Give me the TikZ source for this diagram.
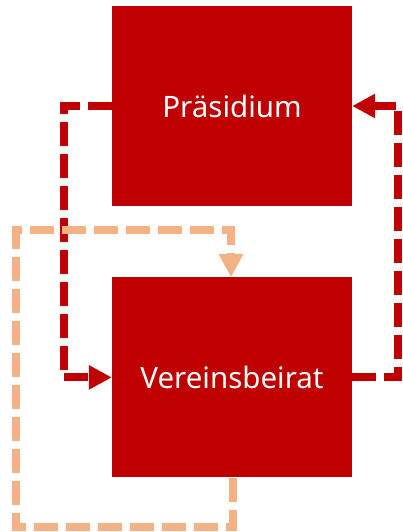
\documentclass[tikz,border=0pt]{standalone}
\usepackage{fontspec}
\setmainfont{Noto Sans}
\usepackage{tikz}
\usetikzlibrary{positioning,arrows.meta}

\definecolor{dunkelrot}{HTML}{C00000}
\definecolor{hellorange}{HTML}{F4B183}

\begin{document}
\begin{tikzpicture}[x=1pt, y=1pt,
		kasten/.style = {fill=dunkelrot, text=white, minimum width=240pt, minimum height=200pt, inner sep=0pt, font=\fontsize{29.5}{34}\selectfont},
		linie/.style = {line width=8pt, dash pattern=on 24pt off 8pt, -{Triangle[length=23pt, width=23pt]}}]
		% 固定画布大小
		\useasboundingbox (0, 0) rectangle (403, 532);
		% 两个方框
		\node[kasten] (P) at (232, 426) {Präsidium};
		\node[kasten, below=71pt of P] (V) {Vereinsbeirat};
		% 深红色的虚线箭头
		\draw[linie, dunkelrot] (P.west) -- ++(-48, 0) |- (V.west);
		\draw[linie, dunkelrot] (V.east) -- ++(46, 0) |- (P.east);
		% 浅橙色的虚线箭头
		\draw[linie, hellorange] ([xshift=1pt]V.south) -- ++(0, -49) -- ++(-217, 0) |- ([xshift=-1pt, yshift=47pt]V.north) -- ([xshift=-1pt]V.north);
	\end{tikzpicture}
\end{document}
